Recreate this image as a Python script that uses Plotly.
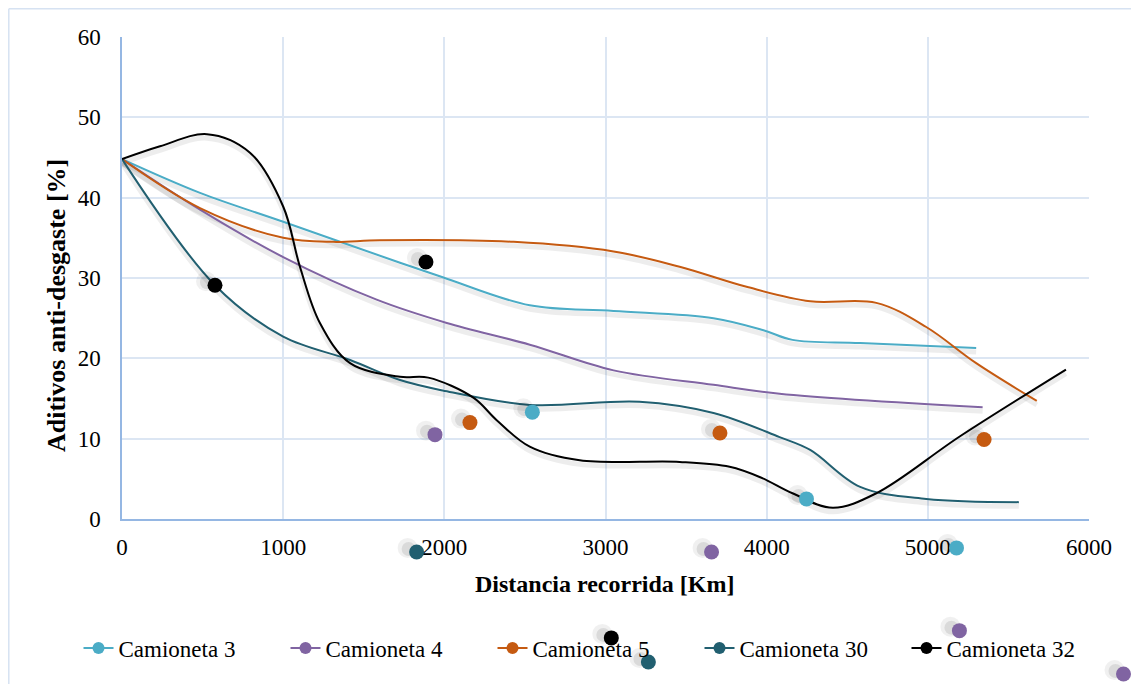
import plotly.graph_objects as go

# ---------------- data ----------------
series_names = ["Camioneta 3", "Camioneta 4", "Camioneta 5", "Camioneta 30", "Camioneta 32"]
series_colors = ["#4BACC6", "#8064A2", "#C55A11", "#215F70", "#000000"]

# smoothed curve points
c3_x = [0, 484, 1000, 1725, 1990, 2530, 3050, 3670, 3980, 4160, 4580, 5300]
c3_y = [44.8, 40.6, 37.0, 31.9, 30.1, 26.6, 25.9, 25.0, 23.5, 22.3, 21.9, 21.3]

c4_x = [0, 484, 1000, 1580, 2015, 2530, 3050, 3670, 4080, 5340]
c4_y = [44.8, 38.5, 32.6, 27.3, 24.4, 21.7, 18.5, 16.7, 15.6, 13.9]

c5_x = [0, 484, 1000, 1310, 1600, 2430, 3050, 3460, 3875, 4270, 4680, 4990, 5300, 5676]
c5_y = [44.8, 38.7, 35.0, 34.5, 34.7, 34.5, 33.3, 31.4, 28.9, 27.1, 26.9, 23.9, 19.4, 14.7]

c30_x = [0, 577, 1000, 1415, 1725, 1990, 2530, 3210, 3670, 4080, 4270, 4580, 4990, 5565]
c30_y = [44.8, 29.1, 22.7, 19.8, 17.3, 16.0, 14.2, 14.6, 13.2, 10.2, 8.6, 4.0, 2.5, 2.1]

c32_x = [0, 236, 527, 794, 1000, 1104, 1228, 1415, 1725, 1900, 2180, 2325, 2530, 2840,
         3460, 3770, 3960, 4160, 4410, 4680, 5200, 5857]
c32_y = [44.8, 46.4, 47.9, 45.6, 38.9, 31.4, 24.4, 19.4, 17.7, 17.6, 15.1, 12.3, 9.0, 7.3,
         7.1, 6.5, 5.2, 3.2, 1.4, 3.2, 10.3, 18.6]

# marker points (as they appear in the picture, several fall outside the axes)
m3_x = [2546, 4247, 5178]
m3_y = [13.3, 2.5, -3.6]
m4_x = [1942, 3658, 5196, 6214]
m4_y = [10.5, -4.1, -13.9, -19.3]
m5_x = [2159, 3710, 5349]
m5_y = [12.0, 10.7, 9.9]
m30_x = [1828, 3266]
m30_y = [-4.1, -17.8]
m32_x = [577, 1886, 3036]
m32_y = [29.1, 32.0, -14.8]

x_ticks = [0, 1000, 2000, 3000, 4000, 5000, 6000]
y_ticks = [0, 10, 20, 30, 40, 50, 60]

lines = [(c3_x, c3_y), (c4_x, c4_y), (c5_x, c5_y), (c30_x, c30_y), (c32_x, c32_y)]
marks = [(m3_x, m3_y), (m4_x, m4_y), (m5_x, m5_y), (m30_x, m30_y), (m32_x, m32_y)]

FONT = "Liberation Serif"

# ---------------- geometry (screen pixels) ----------------
SW, SH = 1139, 684                            # browser window
OFF = 8                                       # page body margin
W, H = SW - OFF, SH - OFF                     # figure size
PL, PR, PT, PB = 122, 1089, 37, 519           # plot area edges (screen px)
X0, X1, Y0, Y1 = 0, 6000, 0, 60               # axis ranges
ux = (X1 - X0) / (PR - PL)                    # data units per px
uy = (Y1 - Y0) / (PB - PT)

def fx(px):
    return (px - OFF) / W

def fy(py):
    return 1 - (py - OFF) / H

# full-figure overlay axis ranges, so markers outside the plot area still show
ov_xrange = [X0 - (PL - OFF) * ux, X1 + (SW - PR) * ux]
ov_yrange = [Y0 - (SH - PB) * uy, Y1 + (PT - OFF) * uy]

fig = go.Figure()

# line shadows
for (lx, ly) in lines:
    fig.add_trace(go.Scatter(
        x=lx, y=[v - 0.5 for v in ly], mode="lines",
        line=dict(color="rgba(0,0,0,0.07)", width=5, shape="spline", smoothing=1.0),
        showlegend=False, hoverinfo="skip", xaxis="x", yaxis="y"))

# marker shadows (two soft layers)
for (mx, my) in marks:
    fig.add_trace(go.Scatter(
        x=[v - 9 * ux for v in mx], y=[v + 4 * uy for v in my], mode="markers",
        marker=dict(color="rgba(0,0,0,0.06)", size=20),
        showlegend=False, hoverinfo="skip", xaxis="x2", yaxis="y2"))
    fig.add_trace(go.Scatter(
        x=[v - 8 * ux for v in mx], y=[v + 3 * uy for v in my], mode="markers",
        marker=dict(color="rgba(0,0,0,0.09)", size=14),
        showlegend=False, hoverinfo="skip", xaxis="x2", yaxis="y2"))

# lines
for (lx, ly), col in zip(lines, series_colors):
    fig.add_trace(go.Scatter(
        x=lx, y=ly, mode="lines",
        line=dict(color=col, width=2, shape="spline", smoothing=1.0),
        showlegend=False, hoverinfo="skip", xaxis="x", yaxis="y"))

# markers
for (mx, my), col in zip(marks, series_colors):
    fig.add_trace(go.Scatter(
        x=mx, y=my, mode="markers",
        marker=dict(color=col, size=15),
        showlegend=False, xaxis="x2", yaxis="y2"))

# legend entries
for name, col in zip(series_names, series_colors):
    fig.add_trace(go.Scatter(
        x=[None], y=[None], mode="lines+markers", name=name,
        line=dict(color=col, width=2), marker=dict(color=col, size=12),
        xaxis="x", yaxis="y"))

fig.update_layout(
    width=W, height=H,
    margin=dict(l=0, r=0, t=0, b=0, pad=0, autoexpand=False),
    paper_bgcolor="white", plot_bgcolor="rgba(0,0,0,0)",
    font=dict(family=FONT, size=23, color="black"),
    showlegend=True,
    legend=dict(orientation="h", x=fx(596), xanchor="center",
                y=fy(648), yanchor="middle",
                font=dict(family=FONT, size=23, color="black"),
                bgcolor="rgba(0,0,0,0)", entrywidth=162),
    xaxis=dict(domain=[fx(PL), fx(PR)], range=[X0, X1],
               tickvals=x_ticks, ticktext=[str(v) for v in x_ticks],
               showgrid=True, gridcolor="#DCE6F3", gridwidth=1.5,
               showline=True, linecolor="#95B7E3", linewidth=1.5,
               zeroline=False, ticks="outside", ticklen=7, tickcolor="rgba(0,0,0,0)",
               tickfont=dict(family=FONT, size=23, color="black"), automargin=False),
    yaxis=dict(domain=[fy(PB), fy(PT)], range=[Y0, Y1],
               tickvals=y_ticks, ticktext=[str(v) for v in y_ticks],
               showgrid=True, gridcolor="#DCE6F3", gridwidth=1.5,
               showline=True, linecolor="#95B7E3", linewidth=1.5,
               zeroline=False, ticks="outside", ticklen=15, tickcolor="rgba(0,0,0,0)",
               tickfont=dict(family=FONT, size=23, color="black"), automargin=False),
    xaxis2=dict(domain=[0, 1], range=ov_xrange, visible=False, anchor="y2",
                showgrid=False, zeroline=False, automargin=False),
    yaxis2=dict(domain=[0, 1], range=ov_yrange, visible=False, anchor="x2",
                showgrid=False, zeroline=False, automargin=False),
    annotations=[
        dict(text="<b>Distancia recorrida [Km]</b>", xref="paper", yref="paper",
             x=fx(605), y=fy(584), xanchor="center", yanchor="middle",
             showarrow=False, font=dict(family=FONT, size=24, color="black")),
        dict(text="<b>Aditivos anti-desgaste [%]</b>", xref="paper", yref="paper",
             x=fx(57), y=fy(306), xanchor="center", yanchor="middle",
             textangle=-90, showarrow=False, font=dict(family=FONT, size=26, color="black")),
    ],
    shapes=[
        dict(type="line", xref="paper", yref="paper",
             x0=fx(8.8), x1=fx(1145), y0=fy(8.8), y1=fy(8.8),
             line=dict(color="#D6E2F2", width=1.5)),
        dict(type="line", xref="paper", yref="paper",
             x0=fx(8.8), x1=fx(8.8), y0=fy(8.8), y1=fy(690),
             line=dict(color="#D6E2F2", width=1.5)),
    ],
)

fig.write_html("out.html", config={"displayModeBar": False})
